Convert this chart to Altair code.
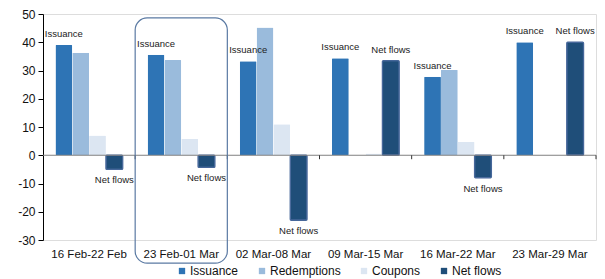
import altair as alt
import pandas as pd

categories = ["16 Feb-22 Feb", "23 Feb-01 Mar", "02 Mar-08 Mar",
              "09 Mar-15 Mar", "16 Mar-22 Mar", "23 Mar-29 Mar"]
series = ["Issuance", "Redemptions", "Coupons", "Net flows"]
issuance = [39.0, 35.6, 33.3, 34.3, 27.8, 40.0]
redemptions = [36.3, 33.7, 45.2, 0.0, 30.3, 0.0]
coupons = [7.0, 5.8, 11.0, 0.6, 4.8, 0.0]
net_flows = [-5.0, -4.3, -23.0, 33.5, -8.0, 40.0]
colors = ["#2E74B5", "#9ABBDC", "#DCE6F2", "#1F4E79"]
y_ticks = [-30, -20, -10, 0, 10, 20, 30, 40, 50]
highlight = categories[1]
annotated = ["Issuance", "Net flows"]

rows = []
for i, c in enumerate(categories):
    for s, vals in zip(series, [issuance, redemptions, coupons, net_flows]):
        rows.append({"cat": c, "series": s, "value": vals[i]})
df = pd.DataFrame(rows)
ann = df[df["series"].isin(annotated)]
ann_pos = ann[ann["value"] >= 0]
ann_neg = ann[ann["value"] < 0]

FONT = "Liberation Sans"
xscale = alt.Scale(domain=categories, paddingInner=0, paddingOuter=0)
oscale = alt.Scale(domain=series, paddingInner=0, paddingOuter=0.74)
yscale = alt.Scale(domain=[-30, 50], nice=False)

xaxis = alt.Axis(domain=False, ticks=False, labelPadding=8, labelFontSize=11.5,
                 labelColor="#111", labelAngle=0, labelFont=FONT, grid=False)
yaxis = alt.Axis(values=y_ticks, grid=False, domainColor="#000", tickColor="#000",
                 tickSize=5, labelPadding=3, labelFontSize=12, labelColor="#111",
                 labelFont=FONT, labelOverlap=False, labelExpr="'' + datum.value")


def Y(field):
    return alt.Y(field, scale=yscale, axis=yaxis, title=None)


def X(bp=None):
    if bp is None:
        return alt.X("cat:N", scale=xscale, axis=xaxis, title=None)
    return alt.X("cat:N", scale=xscale, axis=xaxis, title=None, bandPosition=bp)


XO = alt.XOffset("series:N", scale=oscale)

bars = alt.Chart(df).mark_bar(cornerRadius=1).encode(
    x=X(), xOffset=XO, y=Y("value:Q"),
    color=alt.Color("series:N", scale=alt.Scale(domain=series, range=colors),
                    legend=alt.Legend(title=None, orient="none", legendX=133, legendY=251,
                                      direction="horizontal", symbolType="square",
                                      symbolSize=40, labelFontSize=12, labelFont=FONT,
                                      labelColor="#111", columnPadding=17, labelOffset=2,
                                      symbolStrokeWidth=0)),
    stroke=alt.condition(alt.datum.series == "Net flows", alt.value("#46679A"),
                         alt.value("transparent")),
    strokeWidth=alt.value(1.3),
)

zero = alt.Chart(pd.DataFrame({"value": [0]})).mark_rule(color="#808080", strokeWidth=1).encode(
    y=Y("value:Q"))

tick_df = pd.DataFrame({"cat": categories[1:], "value": [0] * 5, "y2": [-1.4] * 5})
ticks = alt.Chart(tick_df).mark_rule(color="#333", strokeWidth=1).encode(
    x=X(0), y=Y("value:Q"), y2="y2:Q")
end_tick = alt.Chart(pd.DataFrame({"cat": [categories[-1]], "value": [0], "y2": [-1.4]})).mark_rule(
    color="#333", strokeWidth=1).encode(
    x=X(1), y=Y("value:Q"), y2="y2:Q")

lab_pos = alt.Chart(ann_pos).mark_text(fontSize=9.5, font=FONT, color="#222", dy=-11,
                                       baseline="middle").encode(
    x=X(), xOffset=XO, y=Y("value:Q"), text="series:N")
lab_neg = alt.Chart(ann_neg).mark_text(fontSize=9.5, font=FONT, color="#222", dy=11,
                                       baseline="middle").encode(
    x=X(), xOffset=XO, y=Y("value:Q"), text="series:N")

box = alt.Chart(pd.DataFrame({"cat": [highlight], "value": [48.6], "bot": [-38.2]})).mark_rect(
    fill="white", fillOpacity=0, stroke="#5B7AA3", strokeWidth=1.2, cornerRadius=12).encode(
    x=X(), y=Y("value:Q"), y2="bot:Q")

chart = alt.layer(bars, zero, ticks, end_tick, lab_pos, lab_neg, box).properties(
    width=553, height=226,
    autosize=alt.AutoSizeParams(type="none"),
    padding={"left": 35, "top": 6, "right": 1, "bottom": 39},
).configure_view(strokeWidth=0).configure(font=FONT)

chart.save("out.html", embed_options={"renderer": "svg", "actions": False})
